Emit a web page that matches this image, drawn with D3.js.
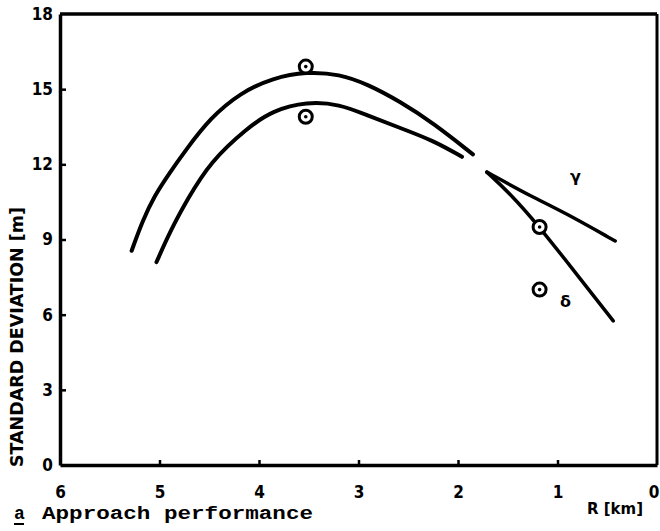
<!DOCTYPE html>
<html>
<head>
<meta charset="utf-8">
<script src="https://cdn.jsdelivr.net/npm/d3@7/dist/d3.min.js"></script>
<style>
  html, body { margin: 0; padding: 0; background: #fff; }
  svg { display: block; }
  .num { font-family: "Liberation Sans Narrow", "DejaVu Sans", sans-serif; font-stretch: condensed; font-weight: bold; }
</style>
</head>
<body>
<svg id="chart" width="660" height="531"></svg>
<script>
// Range R [km] (axis runs from 6 down to 0) and standard deviation [m]
const xTicks = [6, 5, 4, 3, 2, 1, 0];
const yTicks = [0, 3, 6, 9, 12, 15, 18];

// Upper smoothed curve: [R, sigma]
const upperCurve = [
  [5.28, 8.55], [5.17, 9.75], [5.05, 10.75], [4.9, 11.65], [4.74, 12.55],
  [4.49, 13.85], [4.19, 14.85], [3.86, 15.45], [3.52, 15.7], [3.19, 15.6],
  [2.91, 15.2], [2.58, 14.5], [2.25, 13.65], [1.85, 12.4]
];
// Lower smoothed curve
const lowerCurve = [
  [5.03, 8.1], [4.89, 9.35], [4.72, 10.6], [4.49, 12.1], [4.12, 13.45],
  [3.86, 14.15], [3.52, 14.5], [3.19, 14.4], [2.91, 13.95], [2.58, 13.45],
  [2.25, 12.95], [1.96, 12.3]
];
// Close-range branches
const gammaLine = [[1.71, 11.69], [1.25, 10.69], [0.94, 10.1], [0.42, 8.94]];
const deltaLine = [[1.71, 11.69], [1.48, 10.85], [1.18, 9.5], [0.84, 7.78], [0.44, 5.75]];

// Measured points
const measured = [[3.53, 15.9], [3.53, 13.9], [1.18, 9.5], [1.18, 7.0]];

// Branch labels: [R, sigma, text]
const branchLabels = [[0.82, 11.3, "γ"], [0.92, 6.3, "δ"]];

const svg = d3.select("#chart");
const x = d3.scaleLinear().domain([6, 0]).range([60, 657]);
const y = d3.scaleLinear().domain([0, 18]).range([465, 14]);

// Frame: top and right borders
svg.append("line").attr("x1", x(6)).attr("x2", x(0)).attr("y1", y(18)).attr("y2", y(18))
  .attr("stroke", "#000").attr("stroke-width", 3.5);
svg.append("line").attr("x1", x(0)).attr("x2", x(0)).attr("y1", y(18)).attr("y2", y(0))
  .attr("stroke", "#000").attr("stroke-width", 3);

// Y axis
const yAxis = svg.append("g").attr("transform", `translate(${x(6)},0)`)
  .call(d3.axisLeft(y).tickValues(yTicks).tickFormat(d3.format("d"))
    .tickSize(-6).tickSizeOuter(0).tickPadding(7));
// X axis
const xAxis = svg.append("g").attr("transform", `translate(0,${y(0)})`)
  .call(d3.axisBottom(x).tickValues(xTicks).tickFormat(d3.format("d"))
    .tickSize(-5).tickSizeOuter(0).tickPadding(21));

[yAxis, xAxis].forEach(g => {
  g.select(".domain").attr("stroke", "#000").attr("stroke-width", 3.5);
  g.selectAll(".tick line").attr("stroke", "#000").attr("stroke-width", 2.5);
  g.selectAll(".tick text").attr("class", "num").attr("fill", "#000")
    .attr("font-size", 17);
});
yAxis.selectAll(".tick").filter(d => d === 18 || d === 0).select("line").remove();
xAxis.selectAll(".tick").filter(d => d === 6 || d === 0).select("line").remove();
// keep the last label inside the page edge
xAxis.selectAll(".tick").filter(d => d === 0).select("text")
  .attr("text-anchor", "end").attr("x", 2);

// Curves
const line = d3.line().x(d => x(d[0])).y(d => y(d[1])).curve(d3.curveBasis);
[[upperCurve, 4], [lowerCurve, 4], [gammaLine, 3.5], [deltaLine, 3.5]].forEach(([data, w]) => {
  svg.append("path").datum(data).attr("d", line)
    .attr("fill", "none").attr("stroke", "#000").attr("stroke-width", w)
    .attr("stroke-linecap", "round");
});

// Measured points: ring with centre dot
const pts = svg.append("g").selectAll("g").data(measured).join("g")
  .attr("transform", d => `translate(${x(d[0])},${y(d[1])})`);
pts.append("circle").attr("r", 6.5).attr("fill", "#fff").attr("stroke", "#000").attr("stroke-width", 3);
pts.append("circle").attr("r", 1.8).attr("fill", "#000");

// Branch labels
svg.append("g").selectAll("text").data(branchLabels).join("text")
  .attr("x", d => x(d[0])).attr("y", d => y(d[1]))
  .attr("font-family", "DejaVu Sans, sans-serif").attr("font-weight", "bold")
  .attr("font-size", 16).attr("text-anchor", "middle").text(d => d[2]);

// Axis titles
svg.append("text").attr("class", "num")
  .attr("transform", "translate(23,337) rotate(-90)")
  .attr("text-anchor", "middle").attr("font-size", 18)
  .attr("textLength", 260).attr("lengthAdjust", "spacingAndGlyphs")
  .text("STANDARD DEVIATION [m]");
svg.append("text").attr("class", "num")
  .attr("x", 587).attr("y", 514).attr("font-size", 16)
  .attr("textLength", 56).attr("lengthAdjust", "spacingAndGlyphs")
  .text("R [km]");

// Caption
svg.append("text").attr("x", 14).attr("y", 519)
  .attr("font-family", "Liberation Mono, Courier New, monospace").attr("font-weight", "bold")
  .attr("font-size", 18).text("a");
svg.append("line").attr("x1", 14).attr("x2", 24).attr("y1", 524).attr("y2", 524)
  .attr("stroke", "#000").attr("stroke-width", 2);
svg.append("text").attr("x", 42).attr("y", 519)
  .attr("font-family", "Liberation Mono, Courier New, monospace").attr("font-weight", "bold")
  .attr("font-size", 19).attr("textLength", 271).attr("lengthAdjust", "spacingAndGlyphs")
  .text("Approach performance");
</script>
</body>
</html>
